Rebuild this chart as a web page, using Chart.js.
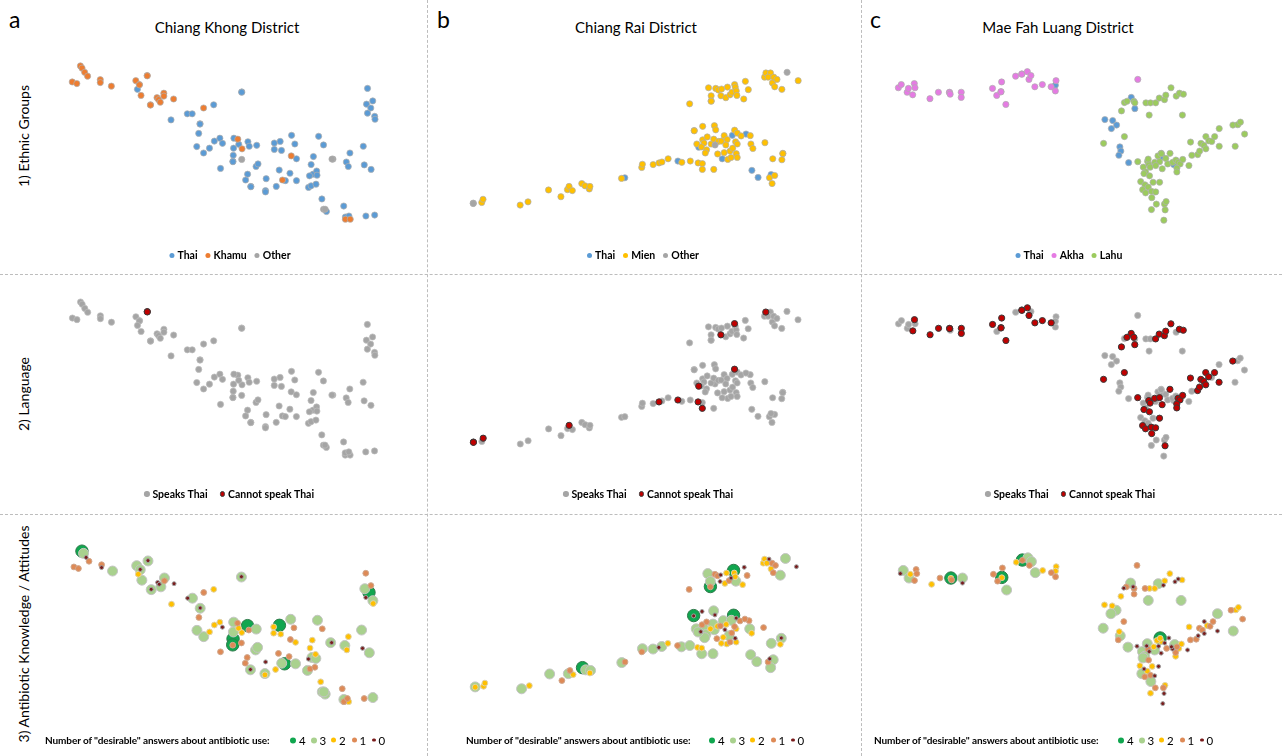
<!DOCTYPE html>
<html>
<head>
<meta charset="utf-8">
<script src="https://cdn.jsdelivr.net/npm/chart.js@4.4.1/dist/chart.umd.min.js"></script>
<style>
html,body{margin:0;padding:0;background:#fff;}
#root{position:relative;width:1282px;height:756px;overflow:hidden;font-family:Lato,'Open Sans',sans-serif;color:#000;}
canvas{position:absolute;}
.vline{position:absolute;top:0;height:756px;width:0;border-left:1px dashed #BDBDBD;}
.hline{position:absolute;left:0;width:1282px;height:0;border-top:1px dashed #BDBDBD;}
.letter{position:absolute;font-size:23px;top:5px;line-height:normal;}
.title{position:absolute;top:18px;font-size:15px;line-height:normal;transform:translateX(-50%);white-space:nowrap;}
.rowlab{position:absolute;font-size:14px;white-space:nowrap;transform:translate(-50%,-50%) rotate(-90deg);}
.legend{position:absolute;font-size:10.5px;font-weight:bold;white-space:nowrap;display:flex;align-items:center;transform:translate(-50%,-50%);}
.legend3{position:absolute;font-size:10px;font-weight:bold;white-space:nowrap;display:flex;align-items:center;transform:translateY(-50%);}
.item{display:flex;align-items:center;}
.dot{display:inline-block;border-radius:50%;box-sizing:border-box;}
</style>
</head>
<body>
<div id="root"></div>
<script>
// ---------------- DATA ----------------
const districtTitles = ['Chiang Khong District', 'Chiang Rai District', 'Mae Fah Luang District'];
const panelLetters = ['a', 'b', 'c'];
const rowTitles = ['1) Ethnic Groups', '2) Language', '3) Antibiotic Knowledge / Attitudes'];

const ethnicKeysCK = ['T', 'K', 'O'];
const ethnicNamesCK = ['Thai', 'Khamu', 'Other'];
const ethnicKeysCR = ['T', 'M', 'O'];
const ethnicNamesCR = ['Thai', 'Mien', 'Other'];
const ethnicKeysMFL = ['T', 'A', 'L'];
const ethnicNamesMFL = ['Thai', 'Akha', 'Lahu'];

const languageLabels = ['Speaks Thai', 'Cannot speak Thai'];
const scoreValues = [4, 3, 2, 1, 0];
const scoreLegendText = 'Number of "desirable" answers about antibiotic use:';

// each respondent: [x, y, ethnic group, cannot speak Thai (1), desirable answers]
const chiangKhongPoints = [
  [232,190,'K',0,4],[237,197,'K',0,3],[245,210,'K',0,0],[254,222,'K',0,1],
  [207,240,'K',0,1],[221,245,'K',0,1],[293,233,'K',0,1],[293,242,'K',0,0],
  [327,253,'K',0,3],[402,236,'K',0,3],[413,248,'K',0,0],[413,249,'K',0,3],[437,220,'K',1,0],[437,221,'K',1,3],
  [418,282,'K',0,3],[467,289,'K',0,0],[472,295,'K',0,0],[488,275,'K',0,3],
  [488,284,'K',0,1],[447,311,'K',0,0],[447,312,'K',0,3],[477,303,'K',0,3],[518,293,'K',0,0],
  [610,321,'K',0,1],[715,418,'K',0,1],[728,448,'K',0,2],[879,470,'K',0,1],
  [852,545,'K',0,3],[1045,667,'K',0,1],[1060,667,'K',0,2],
  [407,263,'T',0,2],[727,271,'T',0,0],[727,272,'T',0,3],[641,311,'T',0,2],[560,339,'T',0,0],
  [575,339,'T',0,3],[510,358,'T',0,2],[599,370,'T',0,0],[599,371,'T',0,3],[595,400,'T',0,1],
  [589,441,'T',0,3],[610,461,'T',0,3],[628,446,'T',0,2],[643,424,'T',0,2],
  [660,415,'T',0,2],[668,431,'T',0,0],[703,415,'T',0,3],[702,446,'T',0,3],
  [718,434,'T',0,2],[701,468,'T',0,4],[700,487,'T',0,4],[700,488,'T',0,1],[662,509,'T',0,1],
  [746,426,'T',0,4],[750,440,'T',0,1],[773,437,'T',0,3],[745,527,'T',0,1],
  [739,545,'T',0,1],[755,565,'T',0,0],[755,566,'T',0,3],[771,503,'T',0,3],[777,495,'T',0,3],
  [802,541,'T',0,0],[800,578,'T',0,3],[800,582,'T',0,2],[827,430,'T',0,2],
  [845,425,'T',0,4],[827,450,'T',0,2],[849,453,'T',0,2],[842,514,'T',0,1],
  [833,565,'T',0,2],[861,547,'T',0,4],[880,406,'T',0,3],[890,433,'T',0,1],
  [875,524,'T',0,1],[895,479,'T',0,2],[895,547,'T',0,3],[963,409,'T',0,3],
  [978,436,'T',0,1],[947,472,'T',0,2],[940,497,'T',0,2],[946,527,'T',0,3],
  [957,517,'T',0,2],[958,530,'T',0,3],[935,532,'T',0,0],[932,568,'T',0,3],
  [940,563,'T',0,1],[955,558,'T',0,1],[973,604,'T',0,2],[987,643,'T',0,3],
  [1040,626,'T',0,1],[1048,489,'T',0,3],[1054,503,'T',0,2],[1059,461,'T',0,2],
  [1100,440,'T',0,3],[1103,498,'T',0,0],[1124,512,'T',0,3],[1113,260,'T',0,1],
  [1110,309,'T',0,3],[1123,321,'T',0,4],[1129,299,'T',0,1],[1113,337,'T',0,0],
  [1135,347,'T',0,3],[1136,356,'T',0,2],[1045,660,'T',0,3],[1056,657,'T',0,1],
  [1108,657,'T',0,1],[1135,654,'T',0,3],
  [727,481,'O',0,1],[1007,480,'O',0,0],[1004,480,'O',0,3],[978,636,'O',0,3],[983,636,'O',0,3]
];

const chiangRaiPoints = [
  [118,617,'O',1,3],[118,618,'O',1,2],[1081,210,'O',0,3],[860,436,'O',0,3],
  [144,615,'M',0,2],[148,605,'M',1,2],[262,623,'M',0,3],[286,613,'M',0,2],
  [349,576,'M',0,3],[387,597,'M',0,1],[407,575,'M',0,3],[412,565,'M',1,1],
  [422,578,'M',0,2],[451,556,'M',0,4],[461,563,'M',0,3],[474,573,'M',0,2],
  [476,565,'M',0,3],[573,540,'M',0,3],[635,506,'M',0,1],[637,496,'M',0,3],
  [670,497,'M',0,3],[688,492,'M',1,0],[697,489,'M',0,3],[716,479,'M',0,2],
  [758,490,'M',0,3],[784,486,'M',0,3],[808,492,'M',1,2],[821,494,'M',0,2],
  [821,512,'M',1,3],[856,512,'M',0,3],[782,308,'M',0,1],
  [840,258,'M',0,3],[848,283,'M',0,3],[848,299,'M',0,4],[848,300,'M',0,1],[862,260,'M',0,1],
  [870,265,'M',0,1],[880,262,'M',0,0],[878,283,'M',1,0],[893,289,'M',0,2],
  [898,256,'M',0,2],[906,280,'M',0,1],[912,272,'M',0,0],[920,248,'M',1,4],
  [922,256,'M',0,2],[925,268,'M',0,2],[927,282,'M',0,3],[948,293,'M',0,2],
  [953,238,'M',0,0],[962,264,'M',0,1],[1012,225,'M',0,2],[1016,212,'M',1,2],
  [1030,212,'M',0,0],[1023,225,'M',0,2],[1036,243,'M',0,2],[1040,225,'M',0,1],
  [1050,232,'M',0,1],[1043,255,'M',0,1],[1065,263,'M',0,3],[1115,236,'M',0,0],
  [796,391,'M',0,4],[796,392,'M',0,0],[822,378,'M',0,0],[858,376,'M',0,3],[862,389,'M',0,0],
  [804,433,'M',0,3],[822,420,'M',0,1],[836,411,'M',0,1],[826,430,'M',0,3],
  [818,442,'M',0,0],[834,451,'M',0,3],[830,461,'M',0,3],[848,433,'M',0,2],
  [856,418,'M',0,3],[870,425,'M',0,2],[879,424,'M',0,1],[888,407,'M',0,3],
  [897,419,'M',0,2],[893,436,'M',0,0],[868,464,'M',0,1],[888,460,'M',0,2],
  [906,455,'M',0,3],[914,446,'M',0,1],[899,481,'M',0,2],[909,475,'M',0,1],
  [923,426,'M',0,1],[928,433,'M',0,2],[920,390,'M',1,4],[928,399,'M',0,0],
  [940,408,'M',0,1],[925,463,'M',0,0],[928,475,'M',0,2],[968,407,'M',0,1],
  [970,433,'M',0,3],[976,447,'M',0,2],[1013,429,'M',0,1],[1068,462,'M',0,0],[1068,463,'M',0,3],
  [1037,479,'M',0,3],[1065,482,'M',0,2],[1027,538,'M',0,1],[1043,531,'M',0,3],
  [1035,556,'M',0,3],
  [583,538,'T',0,1],[746,486,'T',1,1],[913,406,'T',0,3],[955,402,'T',0,1],
  [810,443,'T',1,3],[882,479,'T',0,2],[973,515,'T',0,3],[992,537,'T',0,3],[1032,528,'T',0,0]
];

const maeFahLuangPoints = [
  [103,258,'A',0,0],[112,248,'A',0,3],[130,272,'A',0,3],[134,260,'A',0,2],
  [147,280,'A',1,1],[152,245,'A',1,1],[154,258,'A',0,1],[200,292,'A',1,2],
  [226,272,'A',1,1],[260,272,'A',1,4],[260,273,'A',1,2],[262,278,'A',0,1],[296,272,'A',1,3],
  [296,288,'A',1,0],[392,260,'A',1,1],[420,240,'A',1,1],[405,282,'A',0,1],
  [418,270,'A',1,4],[418,271,'A',1,2],[433,310,'A',1,3],[463,222,'A',0,2],[482,215,'A',1,4],[482,216,'A',1,1],
  [499,208,'A',1,3],[504,232,'A',1,1],[510,220,'A',0,3],[522,255,'A',1,3],
  [545,248,'A',1,2],[572,255,'A',1,1],[585,268,'A',0,1],[587,236,'A',0,2],
  [838,232,'A',0,1],
  [585,250,'T',0,2],[818,288,'T',1,3],[829,323,'T',1,1],[737,357,'T',0,2],
  [761,360,'T',0,2],[773,374,'T',0,3],[757,385,'T',0,3],[783,442,'T',0,2],
  [786,455,'T',0,3],[780,468,'T',0,1],[810,491,'T',0,3],[913,473,'T',0,2],[948,497,'T',0,0],
  [797,304,'L',0,0],[805,300,'L',1,1],[826,300,'L',1,0],[829,305,'L',0,1],
  [788,330,'L',1,2],[863,305,'L',0,1],[877,305,'L',0,2],[893,305,'L',1,2],
  [904,290,'L',1,3],[920,295,'L',1,0],[924,281,'L',1,2],[940,258,'L',1,2],
  [956,284,'L',0,0],[966,275,'L',1,0],[978,278,'L',1,2],[975,343,'L',0,3],
  [873,343,'L',0,3],[733,431,'L',1,3],[797,410,'L',1,1],[1000,427,'L',1,2],
  [1032,431,'L',1,1],[1047,410,'L',1,0],[1041,437,'L',1,1],[1056,423,'L',1,2],
  [1065,425,'L',0,1],[1074,410,'L',1,1],[1088,385,'L',0,3],[1130,374,'L',1,1],
  [1145,373,'L',0,2],[1153,365,'L',0,2],[1166,402,'L',0,1],[1088,440,'L',1,0],
  [1137,440,'L',0,3],[1004,468,'L',0,1],[1022,466,'L',1,1],[1028,455,'L',1,0],
  [1047,448,'L',1,0],
  [838,488,'L',1,0],[855,505,'L',0,3],[868,487,'L',0,0],[872,497,'L',1,1],
  [862,520,'L',0,3],[874,532,'L',1,1],[847,550,'L',0,2],[860,560,'L',0,0],
  [885,552,'L',0,2],[905,552,'L',1,0],[853,575,'L',1,3],[862,585,'L',1,1],
  [870,567,'L',0,2],[880,580,'L',1,1],[893,582,'L',1,0],[881,600,'L',1,3],
  [895,620,'L',0,1],[880,637,'L',0,2],[920,620,'L',0,1],[925,612,'L',0,2],
  [922,638,'L',1,0],[918,670,'L',0,0],[900,470,'L',0,2],[910,462,'L',0,4],[910,463,'L',0,2],
  [924,478,'L',0,0],[937,462,'L',1,0],[890,490,'L',1,2],[905,488,'L',1,0],
  [913,510,'L',1,0],[930,495,'L',0,1],[945,490,'L',0,0],[955,483,'L',0,3],
  [962,490,'L',1,1],[968,495,'L',1,2],[976,481,'L',1,2],[958,508,'L',1,1],
  [958,520,'L',1,2],[995,500,'L',0,0],[870,480,'L',0,3],[876,505,'L',1,0],
  [893,500,'L',0,3],[857,525,'L',1,3]
];

// ---------------- STYLES / LAYOUT ----------------
const ethnicColors = {T:'#5B9BD5', K:'#ED7D31', O:'#A5A5A5', M:'#FFC000', A:'#E57BE3', L:'#9CCB5E'};
const scoreStyle = {
  4:{bg:'#10A64F', border:'#2F7A4A', r:6.2, lg:6},
  3:{bg:'#A9D18E', border:'#C4C4C4', r:5.0, lg:6},
  2:{bg:'#FFC000', border:'#E0D2A8', r:2.9, lg:5},
  1:{bg:'#DE8A56', border:'#D0A88E', r:2.9, lg:5},
  0:{bg:'#7A1C1C', border:'#A0A0A0', r:2.0, lg:3.5}
};
const panels = [
  {pts:chiangKhongPoints, keys:ethnicKeysCK, names:ethnicNamesCK, drawTopFirst:['O','K','T'], left:0, width:430, xmax:1290,
   tops:[0,236,484], leg1:230, leg2:229, leg3text:45, leg3items:290},
  {pts:chiangRaiPoints, keys:ethnicKeysCR, names:ethnicNamesCR, drawTopFirst:['O','M','T'], left:430, width:430, xmax:1290,
   tops:[0,239,485], leg1:643, leg2:648, leg3text:466, leg3items:709},
  {pts:maeFahLuangPoints, keys:ethnicKeysMFL, names:ethnicNamesMFL, drawTopFirst:['L','A','T'], left:860, width:422, xmax:1266,
   tops:[0,236,485], leg1:1069, leg2:1070, leg3text:874, leg3items:1118}
];

const root = document.getElementById('root');
function el(tag, cls, css, text){
  const e = document.createElement(tag);
  if (cls) e.className = cls;
  if (css) Object.assign(e.style, css);
  if (text !== undefined) e.textContent = text;
  root.appendChild(e);
  return e;
}
function dot(parent, size, bg, border){
  const d = document.createElement('span');
  d.className = 'dot';
  Object.assign(d.style, {width:size+'px', height:size+'px', background:bg, border: border ? ('1px solid '+border) : 'none'});
  parent.appendChild(d);
  return d;
}

function makeChart(left, top, width, xmax, datasets){
  const c = document.createElement('canvas');
  c.width = width; c.height = 270;
  Object.assign(c.style, {left:left+'px', top:top+'px', width:width+'px', height:'270px'});
  root.appendChild(c);
  new Chart(c.getContext('2d'), {
    type:'scatter',
    data:{datasets},
    options:{
      responsive:false, animation:false, events:[],
      devicePixelRatio:1,
      layout:{padding:0},
      plugins:{legend:{display:false}, tooltip:{enabled:false}},
      scales:{
        x:{type:'linear', display:false, min:0, max:xmax},
        y:{type:'linear', display:false, min:0, max:810, reverse:true}
      }
    }
  });
}
const toXY = p => ({x:p[0], y:p[1]});

// separators
el('div','vline',{left:'427px'});
el('div','vline',{left:'861px'});
el('div','hline',{top:'274px'});
el('div','hline',{top:'514px'});

// row labels
[136, 394, 634].forEach((cy, i) => el('div','rowlab',{left:'23px', top:cy+'px'}, rowTitles[i]));

panels.forEach((P, ci) => {
  el('div','letter',{left:(P.left + (ci===0?9:(ci===1?7:10)))+'px'}, panelLetters[ci]);
  const titleCenters = [227, 636, 1058];
  el('div','title',{left:titleCenters[ci]+'px'}, districtTitles[ci]);

  // Row 1: ethnic groups
  const ds1 = P.drawTopFirst.map(k => ({
    label: P.names[P.keys.indexOf(k)],
    data: P.pts.filter(p => p[2] === k).map(toXY),
    backgroundColor: ethnicColors[k],
    borderColor: 'rgba(175,175,175,0.9)',
    borderWidth: 0.8,
    pointRadius: 3.1
  }));
  makeChart(P.left, P.tops[0], P.width, P.xmax, ds1);
  const lg1 = el('div','legend',{left:P.leg1+'px', top:'255px'});
  P.keys.forEach((k, i) => {
    const it = document.createElement('span'); it.className='item';
    it.style.marginRight = i < P.keys.length-1 ? '8px' : '0';
    dot(it, 5, ethnicColors[k], null).style.marginRight='3px';
    it.appendChild(document.createTextNode(P.names[i]));
    lg1.appendChild(it);
  });

  // Row 2: language
  const ds2 = [
    {label: languageLabels[1], data: P.pts.filter(p => p[3] === 1).map(toXY),
     backgroundColor:'#C00000', borderColor:'#3A3A3A', borderWidth:1, pointRadius:3.1},
    {label: languageLabels[0], data: P.pts.filter(p => p[3] === 0).map(toXY),
     backgroundColor:'#A5A5A5', borderColor:'rgba(190,190,190,0.9)', borderWidth:0.8, pointRadius:3.1}
  ];
  makeChart(P.left, P.tops[1], P.width, P.xmax, ds2);
  const lg2 = el('div','legend',{left:P.leg2+'px', top:'494px'});
  [['#A5A5A5',null],['#C00000','#3A3A3A']].forEach((s, i) => {
    const it = document.createElement('span'); it.className='item';
    it.style.marginRight = i === 0 ? '12px' : '0';
    dot(it, 5.5, s[0], s[1]).style.marginRight='3px';
    it.appendChild(document.createTextNode(languageLabels[i]));
    lg2.appendChild(it);
  });

  // Row 3: knowledge score (0 drawn on top -> first)
  const ds3 = [0,1,2,3,4].map(s => ({
    label: String(s),
    data: P.pts.filter(p => p[4] === s).map(toXY),
    backgroundColor: scoreStyle[s].bg,
    borderColor: scoreStyle[s].border,
    borderWidth: 1,
    pointRadius: scoreStyle[s].r
  }));
  makeChart(P.left, P.tops[2], P.width, P.xmax, ds3);
  el('div','legend3',{left:P.leg3text+'px', top:'740px', letterSpacing:'-0.1px'}, scoreLegendText);
  const lg3 = el('div','legend3',{left:P.leg3items+'px', top:'740px', fontWeight:'normal', fontSize:'11.5px'});
  scoreValues.forEach((s, i) => {
    const it = document.createElement('span'); it.className='item';
    it.style.width = '20.5px';
    const d = dot(it, scoreStyle[s].lg, scoreStyle[s].bg, null);
    d.style.marginRight = '3px';
    it.appendChild(document.createTextNode(String(s)));
    lg3.appendChild(it);
  });
});
</script>
</body>
</html>
